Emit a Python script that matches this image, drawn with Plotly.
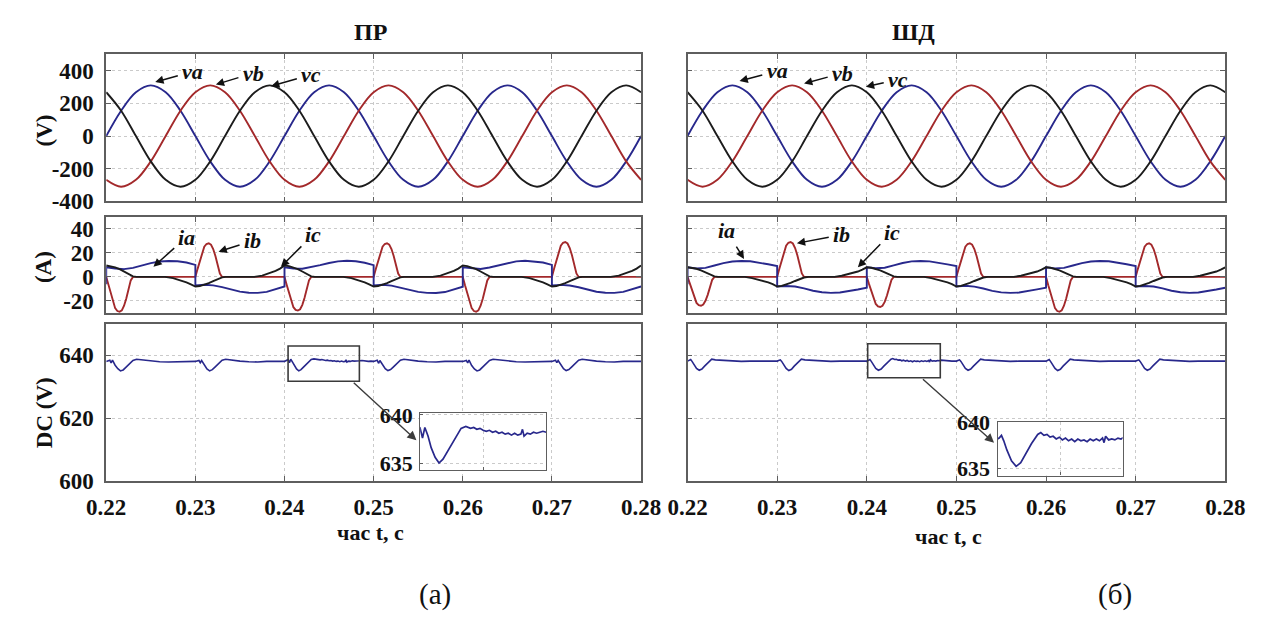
import plotly.graph_objects as go

# ---------------------------------------------------------------- data
# time ticks shared by every panel
T_TICKS = [0.22, 0.23, 0.24, 0.25, 0.26, 0.27, 0.28]
T_TICKTEXT = ["0.22", "0.23", "0.24", "0.25", "0.26", "0.27", "0.28"]

# supply phase voltages (V), sampled every 1/600 s
t_v = [0.22, 0.22167, 0.22333, 0.225, 0.22667, 0.22833, 0.23, 0.23167, 0.23333, 0.235,
       0.23667, 0.23833, 0.24, 0.24167, 0.24333, 0.245, 0.24667, 0.24833, 0.25, 0.25167,
       0.25333, 0.255, 0.25667, 0.25833, 0.26, 0.26167, 0.26333, 0.265, 0.26667, 0.26833,
       0.27, 0.27167, 0.27333, 0.275, 0.27667, 0.27833, 0.28]
va = [0, 155, 268, 310, 268, 155, 0, -155, -268, -310, -268, -155,
      0, 155, 268, 310, 268, 155, 0, -155, -268, -310, -268, -155,
      0, 155, 268, 310, 268, 155, 0, -155, -268, -310, -268, -155, 0]
vb = [-268, -310, -268, -155, 0, 155, 268, 310, 268, 155, 0, -155,
      -268, -310, -268, -155, 0, 155, 268, 310, 268, 155, 0, -155,
      -268, -310, -268, -155, 0, 155, 268, 310, 268, 155, 0, -155, -268]
vc = [268, 155, 0, -155, -268, -310, -268, -155, 0, 155, 268, 310,
      268, 155, 0, -155, -268, -310, -268, -155, 0, 155, 268, 310,
      268, 155, 0, -155, -268, -310, -268, -155, 0, 155, 268, 310, 268]

# phase currents (A), (t, i) pairs -- ПР controller
ia_a = [(0.2200, -6.0), (0.2200, 8.0), (0.2210, 7.0), (0.2220, 6.5), (0.2230, 7.5), (0.2240, 9.5),
        (0.2250, 11.5), (0.2260, 12.8), (0.2270, 13.3), (0.2280, 13.0), (0.2290, 12.0), (0.2300, 10.0),
        (0.2300, -7.0), (0.2310, -6.5), (0.2320, -7.0), (0.2330, -8.5), (0.2340, -10.5), (0.2350, -12.2),
        (0.2360, -13.2), (0.2370, -13.3), (0.2380, -12.5), (0.2390, -10.5), (0.2400, -8.0),
        (0.2400, 8.0), (0.2410, 7.0), (0.2420, 6.8), (0.2430, 8.0), (0.2440, 9.8), (0.2450, 11.6),
        (0.2460, 12.9), (0.2470, 13.4), (0.2480, 13.0), (0.2490, 11.8), (0.2500, 9.8),
        (0.2500, -7.0), (0.2510, -6.5), (0.2520, -7.2), (0.2530, -8.8), (0.2540, -10.8), (0.2550, -12.4),
        (0.2560, -13.3), (0.2570, -13.4), (0.2580, -12.6), (0.2590, -10.6), (0.2600, -8.2),
        (0.2600, 8.0), (0.2610, 7.0), (0.2620, 6.6), (0.2630, 7.8), (0.2640, 9.6), (0.2650, 11.5),
        (0.2660, 12.9), (0.2670, 13.4), (0.2680, 13.0), (0.2690, 12.0), (0.2700, 10.0),
        (0.2700, -7.0), (0.2710, -6.6), (0.2720, -7.1), (0.2730, -8.6), (0.2740, -10.6), (0.2750, -12.3),
        (0.2760, -13.2), (0.2770, -13.3), (0.2780, -12.4), (0.2790, -10.5), (0.2800, -8.0)]

ib_a = [(0.22000, 0), (0.22025, -7.0), (0.22050, -14.0), (0.22075, -21.0), (0.22100, -26.0),
        (0.22125, -28.4), (0.22150, -29.0), (0.22175, -27.8), (0.22200, -24.0), (0.22225, -18.0),
        (0.22250, -10.0), (0.22275, -2.9), (0.22300, 0),
        (0.23000, 0), (0.23025, 6.7), (0.23050, 13.4), (0.23075, 20.0), (0.23100, 25.2),
        (0.23125, 27.4), (0.23150, 28.0), (0.23175, 26.9), (0.23200, 23.2), (0.23225, 17.4),
        (0.23250, 9.8), (0.23275, 2.8), (0.23300, 0),
        (0.24000, 0), (0.24025, -6.7), (0.24050, -13.4), (0.24075, -20.0), (0.24100, -25.2),
        (0.24125, -27.4), (0.24150, -28.0), (0.24175, -26.9), (0.24200, -23.2), (0.24225, -17.4),
        (0.24250, -9.8), (0.24275, -2.8), (0.24300, 0),
        (0.25000, 0), (0.25025, 6.7), (0.25050, 13.4), (0.25075, 20.0), (0.25100, 25.2),
        (0.25125, 27.4), (0.25150, 28.0), (0.25175, 26.9), (0.25200, 23.2), (0.25225, 17.4),
        (0.25250, 9.8), (0.25275, 2.8), (0.25300, 0),
        (0.26000, 0), (0.26025, -7.0), (0.26050, -14.0), (0.26075, -21.0), (0.26100, -26.0),
        (0.26125, -28.4), (0.26150, -29.0), (0.26175, -27.8), (0.26200, -24.0), (0.26225, -18.0),
        (0.26250, -10.0), (0.26275, -2.9), (0.26300, 0),
        (0.27000, 0), (0.27025, 7.0), (0.27050, 14.0), (0.27075, 21.0), (0.27100, 26.0),
        (0.27125, 28.4), (0.27150, 29.0), (0.27175, 27.8), (0.27200, 24.0), (0.27225, 18.0),
        (0.27250, 10.0), (0.27275, 2.9), (0.27300, 0), (0.28000, 0)]

ic_a = [(0.2200, 9.5), (0.2205, 9.0), (0.2210, 8.0), (0.2215, 6.5), (0.2220, 4.5), (0.2225, 2.2),
        (0.2230, 0.5), (0.2234, 0), (0.2266, 0), (0.2275, -1.0), (0.2280, -2.0), (0.2285, -3.2),
        (0.2290, -4.6), (0.2295, -6.2), (0.2300, -8.0), (0.2305, -7.6), (0.2310, -6.6), (0.2315, -5.2),
        (0.2320, -3.5), (0.2325, -1.8), (0.2330, -0.4), (0.2334, 0), (0.2366, 0), (0.2375, 1.1),
        (0.2380, 2.2), (0.2385, 3.5), (0.2390, 5.0), (0.2395, 6.9), (0.2400, 9.5),
        (0.2405, 9.0), (0.2410, 8.0), (0.2415, 6.5), (0.2420, 4.5), (0.2425, 2.2),
        (0.2430, 0.5), (0.2434, 0), (0.2466, 0), (0.2475, -1.0), (0.2480, -2.0), (0.2485, -3.2),
        (0.2490, -4.6), (0.2495, -6.2), (0.2500, -8.0), (0.2505, -7.6), (0.2510, -6.6), (0.2515, -5.2),
        (0.2520, -3.5), (0.2525, -1.8), (0.2530, -0.4), (0.2534, 0), (0.2566, 0), (0.2575, 1.1),
        (0.2580, 2.2), (0.2585, 3.5), (0.2590, 5.0), (0.2595, 6.9), (0.2600, 9.5),
        (0.2605, 9.0), (0.2610, 8.0), (0.2615, 6.5), (0.2620, 4.5), (0.2625, 2.2),
        (0.2630, 0.5), (0.2634, 0), (0.2666, 0), (0.2675, -1.0), (0.2680, -2.0), (0.2685, -3.2),
        (0.2690, -4.6), (0.2695, -6.2), (0.2700, -8.0), (0.2705, -7.6), (0.2710, -6.6), (0.2715, -5.2),
        (0.2720, -3.5), (0.2725, -1.8), (0.2730, -0.4), (0.2734, 0), (0.2766, 0), (0.2775, 1.1),
        (0.2780, 2.2), (0.2785, 3.5), (0.2790, 5.0), (0.2795, 6.9), (0.2800, 9.5)]

# phase currents (A) -- ШД controller
ia_b = [(0.2200, -6.0), (0.2200, 8.0), (0.2210, 7.0), (0.2220, 7.5), (0.2230, 9.5), (0.2240, 11.5),
        (0.2250, 12.8), (0.2260, 13.3), (0.2270, 13.0), (0.2280, 12.0), (0.2290, 10.5), (0.2300, 9.0),
        (0.2300, -8.0), (0.2310, -7.5), (0.2320, -8.0), (0.2330, -9.5), (0.2340, -11.5), (0.2350, -12.8),
        (0.2360, -13.3), (0.2370, -13.0), (0.2380, -12.0), (0.2390, -10.5), (0.2400, -9.0),
        (0.2400, 8.0), (0.2410, 7.2), (0.2420, 7.6), (0.2430, 9.6), (0.2440, 11.6), (0.2450, 12.9),
        (0.2460, 13.3), (0.2470, 12.9), (0.2480, 11.9), (0.2490, 10.4), (0.2500, 9.0),
        (0.2500, -8.0), (0.2510, -7.4), (0.2520, -8.1), (0.2530, -9.6), (0.2540, -11.6), (0.2550, -12.9),
        (0.2560, -13.3), (0.2570, -13.0), (0.2580, -11.9), (0.2590, -10.4), (0.2600, -9.0),
        (0.2600, 8.0), (0.2610, 7.1), (0.2620, 7.5), (0.2630, 9.5), (0.2640, 11.5), (0.2650, 12.8),
        (0.2660, 13.3), (0.2670, 13.0), (0.2680, 12.0), (0.2690, 10.5), (0.2700, 9.0),
        (0.2700, -8.0), (0.2710, -7.5), (0.2720, -8.0), (0.2730, -9.5), (0.2740, -11.5), (0.2750, -12.8),
        (0.2760, -13.3), (0.2770, -13.0), (0.2780, -12.0), (0.2790, -10.5), (0.2800, -9.0)]

ib_b = [(0.22000, 0), (0.22025, -5.8), (0.22050, -11.5), (0.22075, -17.3), (0.22100, -21.6),
        (0.22125, -23.5), (0.22150, -24.0), (0.22175, -23.0), (0.22200, -19.9), (0.22225, -14.9),
        (0.22250, -8.4), (0.22275, -2.4), (0.22300, 0),
        (0.23000, 0), (0.23025, 7.0), (0.23050, 14.0), (0.23075, 21.0), (0.23100, 26.0),
        (0.23125, 28.4), (0.23150, 29.0), (0.23175, 27.8), (0.23200, 24.0), (0.23225, 18.0),
        (0.23250, 10.0), (0.23275, 2.9), (0.23300, 0),
        (0.24000, 0), (0.24025, -6.0), (0.24050, -12.0), (0.24075, -18.0), (0.24100, -22.5),
        (0.24125, -24.5), (0.24150, -25.0), (0.24175, -24.0), (0.24200, -20.8), (0.24225, -15.5),
        (0.24250, -8.8), (0.24275, -2.5), (0.24300, 0),
        (0.25000, 0), (0.25025, 6.7), (0.25050, 13.4), (0.25075, 20.0), (0.25100, 25.2),
        (0.25125, 27.4), (0.25150, 28.0), (0.25175, 26.9), (0.25200, 23.2), (0.25225, 17.4),
        (0.25250, 9.8), (0.25275, 2.8), (0.25300, 0),
        (0.26000, 0), (0.26025, -7.0), (0.26050, -14.0), (0.26075, -21.0), (0.26100, -26.0),
        (0.26125, -28.4), (0.26150, -29.0), (0.26175, -27.8), (0.26200, -24.0), (0.26225, -18.0),
        (0.26250, -10.0), (0.26275, -2.9), (0.26300, 0),
        (0.27000, 0), (0.27025, 6.7), (0.27050, 13.4), (0.27075, 20.0), (0.27100, 25.2),
        (0.27125, 27.4), (0.27150, 28.0), (0.27175, 26.9), (0.27200, 23.2), (0.27225, 17.4),
        (0.27250, 9.8), (0.27275, 2.8), (0.27300, 0), (0.28000, 0)]

ic_b = [(0.2200, 8.0), (0.2205, 7.6), (0.2210, 6.8), (0.2215, 5.5), (0.2220, 3.8), (0.2225, 2.0),
        (0.2230, 0.5), (0.2234, 0), (0.2264, 0), (0.2272, -1.0), (0.2278, -2.0), (0.2284, -3.2),
        (0.2290, -4.5), (0.2295, -6.0), (0.2300, -8.0), (0.2305, -7.5), (0.2310, -6.4), (0.2315, -5.0),
        (0.2320, -3.4), (0.2325, -1.8), (0.2330, -0.5), (0.2335, 0), (0.2364, 0), (0.2372, 1.0),
        (0.2378, 2.0), (0.2384, 3.2), (0.2390, 4.5), (0.2395, 6.0), (0.2400, 8.0),
        (0.2405, 7.6), (0.2410, 6.8), (0.2415, 5.5), (0.2420, 3.8), (0.2425, 2.0),
        (0.2430, 0.5), (0.2434, 0), (0.2464, 0), (0.2472, -1.0), (0.2478, -2.0), (0.2484, -3.2),
        (0.2490, -4.5), (0.2495, -6.0), (0.2500, -8.0), (0.2505, -7.5), (0.2510, -6.4), (0.2515, -5.0),
        (0.2520, -3.4), (0.2525, -1.8), (0.2530, -0.5), (0.2535, 0), (0.2564, 0), (0.2572, 1.0),
        (0.2578, 2.0), (0.2584, 3.2), (0.2590, 4.5), (0.2595, 6.0), (0.2600, 8.0),
        (0.2605, 7.6), (0.2610, 6.8), (0.2615, 5.5), (0.2620, 3.8), (0.2625, 2.0),
        (0.2630, 0.5), (0.2634, 0), (0.2664, 0), (0.2672, -1.0), (0.2678, -2.0), (0.2684, -3.2),
        (0.2690, -4.5), (0.2695, -6.0), (0.2700, -8.0), (0.2705, -7.5), (0.2710, -6.4), (0.2715, -5.0),
        (0.2720, -3.4), (0.2725, -1.8), (0.2730, -0.5), (0.2735, 0), (0.2764, 0), (0.2772, 1.0),
        (0.2778, 2.0), (0.2784, 3.2), (0.2790, 4.5), (0.2795, 6.0), (0.2800, 8.0)]

# DC-link voltage (V) -- ПР controller
dc_a = [(0.22000, 638.0), (0.22040, 638.4), (0.22055, 637.5), (0.22070, 638.4), (0.22100, 636.8),
        (0.22130, 635.7), (0.22160, 635.0), (0.22190, 635.3), (0.22220, 636.1), (0.22260, 637.2),
        (0.22300, 638.3), (0.22340, 638.7), (0.22400, 638.5), (0.22500, 638.2), (0.22600, 637.9),
        (0.22700, 637.8), (0.22800, 637.9), (0.22900, 637.8),
        (0.23000, 638.0), (0.23040, 638.3), (0.23055, 637.6), (0.23070, 638.3), (0.23100, 636.7),
        (0.23130, 635.6), (0.23160, 635.0), (0.23190, 635.4), (0.23220, 636.2), (0.23260, 637.3),
        (0.23300, 638.4), (0.23340, 638.7), (0.23400, 638.4), (0.23500, 638.1), (0.23600, 637.9),
        (0.23700, 637.8), (0.23800, 638.0), (0.23900, 637.9),
        (0.24000, 638.0), (0.24020, 638.3), (0.24040, 638.6), (0.24055, 637.6), (0.24070, 638.7),
        (0.24090, 637.8), (0.24110, 636.6), (0.24135, 635.6), (0.24160, 635.0), (0.24185, 635.4),
        (0.24210, 636.1), (0.24240, 637.0), (0.24270, 637.9), (0.24300, 638.6), (0.24330, 638.8),
        (0.24360, 638.6), (0.24380, 638.7), (0.24400, 638.5), (0.24420, 638.6), (0.24440, 638.4),
        (0.24460, 638.3), (0.24480, 638.4), (0.24500, 638.2), (0.24520, 638.3), (0.24540, 638.1),
        (0.24560, 638.2), (0.24580, 638.0), (0.24600, 638.1), (0.24620, 637.9), (0.24640, 638.1),
        (0.24660, 637.9), (0.24680, 638.0), (0.24690, 638.5), (0.24700, 637.8), (0.24720, 638.1),
        (0.24740, 638.0), (0.24760, 638.2), (0.24780, 638.1), (0.24800, 638.2), (0.24820, 638.3),
        (0.24840, 638.2), (0.24870, 638.3), (0.24900, 638.1), (0.24940, 638.0), (0.24970, 638.1),
        (0.25000, 638.0), (0.25040, 638.4), (0.25055, 637.4), (0.25070, 638.3), (0.25100, 636.8),
        (0.25130, 635.7), (0.25160, 635.1), (0.25190, 635.4), (0.25220, 636.2), (0.25260, 637.3),
        (0.25300, 638.4), (0.25340, 638.7), (0.25400, 638.4), (0.25500, 638.1), (0.25600, 637.9),
        (0.25700, 637.8), (0.25800, 638.0), (0.25900, 637.9),
        (0.26000, 638.0), (0.26040, 638.3), (0.26055, 637.5), (0.26070, 638.4), (0.26100, 636.7),
        (0.26130, 635.6), (0.26160, 635.0), (0.26190, 635.3), (0.26220, 636.1), (0.26260, 637.2),
        (0.26300, 638.3), (0.26340, 638.7), (0.26400, 638.5), (0.26500, 638.2), (0.26600, 637.9),
        (0.26700, 637.8), (0.26800, 637.9), (0.26900, 637.8),
        (0.27000, 638.0), (0.27040, 638.4), (0.27055, 637.6), (0.27070, 638.3), (0.27100, 636.8),
        (0.27130, 635.7), (0.27160, 635.1), (0.27190, 635.4), (0.27220, 636.2), (0.27260, 637.3),
        (0.27300, 638.4), (0.27340, 638.7), (0.27400, 638.4), (0.27500, 638.1), (0.27600, 637.9),
        (0.27700, 637.8), (0.27800, 638.0), (0.27900, 637.9), (0.28000, 638.0)]

# DC-link voltage (V) -- ШД controller
dc_b = [(0.22000, 638.1), (0.22020, 638.3), (0.22035, 638.6), (0.22050, 638.0), (0.22070, 637.0),
        (0.22100, 635.8), (0.22130, 635.2), (0.22160, 635.6), (0.22190, 636.5), (0.22230, 637.7),
        (0.22270, 638.7), (0.22310, 638.5), (0.22400, 638.3), (0.22500, 638.1), (0.22600, 638.0),
        (0.22700, 638.1), (0.22800, 638.0), (0.22900, 638.1),
        (0.23000, 638.1), (0.23020, 638.3), (0.23035, 638.5), (0.23050, 638.0), (0.23070, 637.0),
        (0.23100, 635.8), (0.23130, 635.1), (0.23160, 635.5), (0.23190, 636.5), (0.23230, 637.7),
        (0.23270, 638.7), (0.23310, 638.5), (0.23400, 638.3), (0.23500, 638.1), (0.23600, 638.0),
        (0.23700, 638.1), (0.23800, 638.0), (0.23900, 638.1),
        (0.24000, 638.1), (0.24020, 638.3), (0.24035, 638.6), (0.24050, 638.0), (0.24070, 637.0),
        (0.24100, 635.8), (0.24130, 635.2), (0.24160, 635.6), (0.24190, 636.5), (0.24230, 637.7),
        (0.24270, 638.7), (0.24290, 638.9), (0.24310, 638.6), (0.24330, 638.7), (0.24350, 638.4),
        (0.24370, 638.5), (0.24390, 638.2), (0.24410, 638.4), (0.24430, 638.1), (0.24450, 638.3),
        (0.24470, 638.0), (0.24490, 638.2), (0.24510, 637.9), (0.24530, 638.2), (0.24550, 638.0),
        (0.24570, 638.1), (0.24590, 637.9), (0.24610, 638.2), (0.24630, 638.0), (0.24650, 638.2),
        (0.24670, 638.0), (0.24690, 638.3), (0.24700, 637.8), (0.24710, 638.5), (0.24730, 638.1),
        (0.24750, 638.2), (0.24770, 638.1), (0.24790, 638.3), (0.24810, 638.2), (0.24830, 638.4),
        (0.24860, 638.3), (0.24900, 638.2), (0.24950, 638.1),
        (0.25000, 638.1), (0.25020, 638.3), (0.25035, 638.5), (0.25050, 638.0), (0.25070, 637.0),
        (0.25100, 635.8), (0.25130, 635.2), (0.25160, 635.6), (0.25190, 636.5), (0.25230, 637.7),
        (0.25270, 638.7), (0.25310, 638.5), (0.25400, 638.3), (0.25500, 638.1), (0.25600, 638.0),
        (0.25700, 638.1), (0.25800, 638.0), (0.25900, 638.1),
        (0.26000, 638.1), (0.26020, 638.3), (0.26035, 638.6), (0.26050, 638.0), (0.26070, 637.0),
        (0.26100, 635.8), (0.26130, 635.1), (0.26160, 635.5), (0.26190, 636.5), (0.26230, 637.7),
        (0.26270, 638.7), (0.26310, 638.5), (0.26400, 638.3), (0.26500, 638.1), (0.26600, 638.0),
        (0.26700, 638.1), (0.26800, 638.0), (0.26900, 638.1),
        (0.27000, 638.1), (0.27020, 638.3), (0.27035, 638.5), (0.27050, 638.0), (0.27070, 637.0),
        (0.27100, 635.8), (0.27130, 635.2), (0.27160, 635.6), (0.27190, 636.5), (0.27230, 637.7),
        (0.27270, 638.7), (0.27310, 638.5), (0.27400, 638.3), (0.27500, 638.1), (0.27600, 638.0),
        (0.27700, 638.1), (0.27800, 638.0), (0.27900, 638.1), (0.28000, 638.1)]

# zoom windows shown in the insets: (t0, t1, v0, v1)
zoom_a = (0.2404, 0.2484, 631.7, 642.9)
zoom_b = (0.2401, 0.2482, 632.8, 643.6)

# ---------------------------------------------------------------- style
W, H = 1285, 627
SERIF = "Liberation Serif, Times New Roman, DejaVu Serif, serif"
C_BLUE, C_RED, C_BLACK = "#28288c", "#a3292b", "#1c1c1c"
FRAME, GRID = "#5e5e5e", "#cacaca"
TICK_FONT = dict(family=SERIF, size=23, color="#111", weight="bold")


def pxx(x):
    return x / W


def pyy(y):
    return 1 - y / H


LEFT_X = [pxx(89), pxx(641)]
RIGHT_X = [pxx(689), pxx(1244)]
ROW_V = [pyy(198), pyy(45)]
ROW_I = [pyy(314), pyy(214)]
ROW_DC = [pyy(489), pyy(325)]


def frame_axis(**kw):
    d = dict(ticks="inside", ticklen=5, tickcolor=FRAME, mirror="allticks",
             showline=True, linecolor=FRAME, linewidth=1.6, zeroline=False,
             showgrid=True, gridcolor=GRID, griddash="dot", gridwidth=1,
             tickfont=TICK_FONT, ticklabelstandoff=3, fixedrange=True)
    d.update(kw)
    return d


def x_axis(domain, anchor, labels):
    return frame_axis(domain=domain, anchor=anchor, range=[0.22, 0.28],
                      tickvals=T_TICKS, ticktext=T_TICKTEXT, showticklabels=labels,
                      ticklabelstandoff=4)


def y_axis(domain, anchor, rng, vals, labels):
    return frame_axis(domain=domain, anchor=anchor, range=rng, tickvals=vals,
                      ticktext=[str(v) for v in vals], showticklabels=labels,
                      ticklabelstandoff=6)


fig = go.Figure()


def add_line(pairs_or_xy, color, xa, ya, width=1.9, shape="linear"):
    if isinstance(pairs_or_xy, tuple):
        xs, ys = pairs_or_xy
    else:
        xs = [p[0] for p in pairs_or_xy]
        ys = [p[1] for p in pairs_or_xy]
    fig.add_trace(go.Scatter(x=xs, y=ys, mode="lines", xaxis=xa, yaxis=ya,
                             line=dict(color=color, width=width, shape=shape),
                             showlegend=False, hoverinfo="skip"))


# voltages (both controllers share the same supply)
for xa, ya in (("x", "y"), ("x4", "y4")):
    add_line((t_v, va), C_BLUE, xa, ya, shape="spline")
    add_line((t_v, vb), C_RED, xa, ya, shape="spline")
    add_line((t_v, vc), C_BLACK, xa, ya, shape="spline")

# currents
for (ia, ib, ic), (xa, ya) in (((ia_a, ib_a, ic_a), ("x2", "y2")),
                                ((ia_b, ib_b, ic_b), ("x5", "y5"))):
    add_line(ib, C_RED, xa, ya)
    add_line(ia, C_BLUE, xa, ya)
    add_line(ic, C_BLACK, xa, ya)

# DC link, full view and inset
add_line(dc_a, C_BLUE, "x3", "y3", width=1.6)
add_line(dc_b, C_BLUE, "x6", "y6", width=1.6)
add_line(dc_a, C_BLUE, "x7", "y7", width=1.7)
add_line(dc_b, C_BLUE, "x8", "y8", width=1.7)

INSET_FONT = dict(family=SERIF, size=22, color="#111", weight="bold")

layout_axes = dict(
    xaxis=x_axis(LEFT_X, "y", False),
    yaxis=y_axis(ROW_V, "x", [-400, 500], [-400, -200, 0, 200, 400], True),
    xaxis2=x_axis(LEFT_X, "y2", False),
    yaxis2=y_axis(ROW_I, "x2", [-30, 50], [-20, 0, 20, 40], True),
    xaxis3=x_axis(LEFT_X, "y3", True),
    yaxis3=y_axis(ROW_DC, "x3", [600, 650], [600, 620, 640], True),
    xaxis4=x_axis(RIGHT_X, "y4", False),
    yaxis4=y_axis(ROW_V, "x4", [-400, 500], [-400, -200, 0, 200, 400], False),
    xaxis5=x_axis(RIGHT_X, "y5", False),
    yaxis5=y_axis(ROW_I, "x5", [-30, 50], [-20, 0, 20, 40], False),
    xaxis6=x_axis(RIGHT_X, "y6", True),
    yaxis6=y_axis(ROW_DC, "x6", [600, 650], [600, 620, 640], False),
    # insets
    xaxis7=frame_axis(domain=[pxx(413), pxx(543)], anchor="y7", range=[zoom_a[0], zoom_a[1]],
                      tickvals=[0.2444], showticklabels=False, ticklen=3, linewidth=1.2,
                      mirror=True),
    yaxis7=frame_axis(domain=[pyy(477), pyy(418)], anchor="x7", range=[634.3, 640.2],
                      tickvals=[635, 640], ticktext=["635", "640"], ticklen=3,
                      linewidth=1.2, mirror=True, ticklabelstandoff=2, tickfont=INSET_FONT),
    xaxis8=frame_axis(domain=[pxx(1009), pxx(1138)], anchor="y8", range=[zoom_b[0], zoom_b[1]],
                      tickvals=[0.2442], showticklabels=False, ticklen=3, linewidth=1.2,
                      mirror=True),
    yaxis8=frame_axis(domain=[pyy(483), pyy(427)], anchor="x8", range=[634.2, 640.1],
                      tickvals=[635, 640], ticktext=["635", "640"], ticklen=3,
                      linewidth=1.2, mirror=True, ticklabelstandoff=2, tickfont=INSET_FONT),
)

shapes = [
    dict(type="rect", xref="x3", yref="y3", x0=zoom_a[0], x1=zoom_a[1], y0=zoom_a[2], y1=zoom_a[3],
         line=dict(color="#3a3a3a", width=1.6)),
    dict(type="rect", xref="x6", yref="y6", x0=zoom_b[0], x1=zoom_b[1], y0=zoom_b[2], y1=zoom_b[3],
         line=dict(color="#3a3a3a", width=1.6)),
]


def paper_text(text, x, y, size=23, bold=True, angle=0):
    return dict(text=text, x=pxx(x), y=pyy(y), xref="paper", yref="paper",
                showarrow=False, textangle=angle, xanchor="center", yanchor="middle",
                font=dict(family=SERIF, size=size, color="#111",
                          weight="bold" if bold else "normal"))


def tag(text, xa, ya, x, y, tx, ty):
    # label at (tx, ty) with an arrow pointing to (x, y) in data units
    return dict(text="<i>" + text + "</i>", xref=xa, yref=ya, axref=xa, ayref=ya,
                x=x, y=y, ax=tx, ay=ty, showarrow=True, arrowhead=2, arrowsize=1.1,
                arrowwidth=1.5, arrowcolor="#111", standoff=0, startstandoff=3,
                font=dict(family=SERIF, size=22, color="#111", weight="bold"))


def pointer(xa, ya, x, y, tx, ty):
    return dict(text="", xref=xa, yref=ya, axref=xa, ayref=ya, x=x, y=y, ax=tx, ay=ty,
                showarrow=True, arrowhead=2, arrowsize=1.3, arrowwidth=1.4,
                arrowcolor="#3c3c3c", standoff=0)


annotations = [
    paper_text("ПР", 362, 22, size=24),
    paper_text("ШД", 922, 22, size=24),
    paper_text("(V)", 25, 124, angle=-90),
    paper_text("(A)", 25, 266, angle=-90),
    paper_text("DC (V)", 25, 418, angle=-90),
    paper_text("час t, с", 362, 542, size=22),
    paper_text("час t, с", 958, 546, size=22),
    paper_text("(а)", 428, 607, size=29, bold=False),
    paper_text("(б)", 1130, 607, size=29, bold=False),
    # phase labels, ПР
    tag("va", "x", "y", 0.2255, 330, 0.2297, 395),
    tag("vb", "x", "y", 0.2323, 315, 0.2365, 385),
    tag("vc", "x", "y", 0.2385, 305, 0.2430, 375),
    tag("ia", "x2", "y2", 0.2253, 8.5, 0.2290, 33),
    tag("ib", "x2", "y2", 0.2326, 21, 0.2364, 30),
    tag("ic", "x2", "y2", 0.2396, 8.5, 0.2432, 35),
    # phase labels, ШД
    tag("va", "x4", "y4", 0.2258, 336, 0.2300, 398),
    tag("vb", "x4", "y4", 0.2330, 321, 0.2373, 385),
    tag("vc", "x4", "y4", 0.2399, 302, 0.2435, 345),
    tag("ia", "x5", "y5", 0.2263, 15, 0.2243, 39),
    tag("ib", "x5", "y5", 0.2322, 28, 0.2372, 35),
    tag("ic", "x5", "y5", 0.2390, 8, 0.2428, 37),
    # zoom pointers
    pointer("x3", "y3", 0.2548, 613.0, 0.2476, zoom_a[2]),
    pointer("x6", "y6", 0.2542, 612.2, 0.2461, zoom_b[2]),
]

fig.update_layout(
    width=W, height=H, margin=dict(l=0, r=0, t=0, b=0),
    paper_bgcolor="white", plot_bgcolor="white",
    showlegend=False, shapes=shapes, annotations=annotations,
    font=dict(family=SERIF, color="#111"),
    **layout_axes,
)

fig.write_html("out.html")
